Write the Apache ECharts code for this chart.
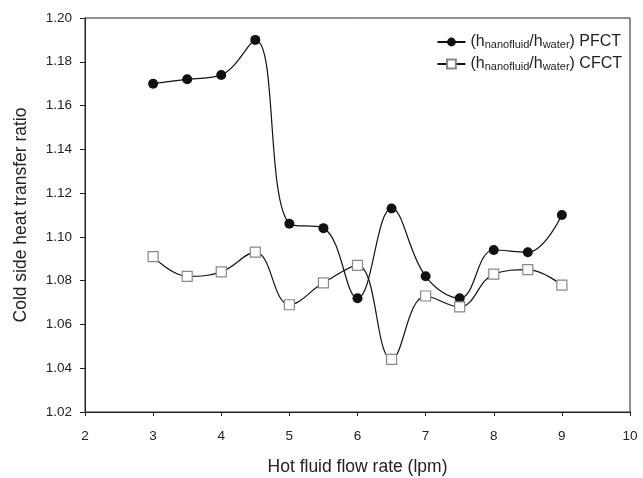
<!DOCTYPE html>
<html>
<head>
<meta charset="utf-8">
<script src="https://cdn.jsdelivr.net/npm/echarts@6/dist/echarts.min.js"></script>
<style>
  html, body { margin: 0; padding: 0; background: #fff; }
  #main { width: 643px; height: 478px; }
</style>
</head>
<body>
<div id="main"></div>
<script>
// flow rate (lpm)
const flowRate = [3, 3.5, 4, 4.5, 5, 5.5, 6, 6.5, 7, 7.5, 8, 8.5, 9]
// h_nanofluid / h_water
const pfct = [1.170, 1.172, 1.174, 1.190, 1.106, 1.104, 1.072, 1.113, 1.082, 1.072, 1.094, 1.093, 1.110]
const cfct = [1.091, 1.082, 1.084, 1.093, 1.069, 1.079, 1.087, 1.044, 1.073, 1.068, 1.083, 1.085, 1.078]

const font = 'Liberation Sans, Arial, sans-serif'

function pairs(ys) {
  return flowRate.map((x, i) => [x, ys[i]])
}

const chart = echarts.init(document.getElementById('main'))
chart.setOption({
  animation: false,
  backgroundColor: '#fff',
  textStyle: { fontFamily: font },
  grid: {
    left: 85, right: 13, top: 18, bottom: 66,
    outerBoundsMode: 'none', containLabel: false,
    show: true, borderColor: '#222', borderWidth: 1
  },
  legend: {
    orient: 'vertical',
    right: 21,
    top: 32,
    padding: 0,
    itemWidth: 28,
    itemHeight: 11,
    itemGap: 2,
    data: ['PFCT', 'CFCT'],
    formatter: name => '(h{sub|nanofluid}/h{sub|water}) ' + name,
    textStyle: {
      fontFamily: font, fontSize: 16, color: '#222', lineHeight: 20,
      rich: { sub: { fontFamily: font, fontSize: 11, color: '#222', lineHeight: 20, padding: [6, 0, 0, 0] } }
    }
  },
  xAxis: {
    type: 'value', min: 2, max: 10, interval: 1,
    name: 'Hot fluid flow rate (lpm)', nameLocation: 'middle', nameGap: 46,
    nameTextStyle: { fontFamily: font, fontSize: 17.5, color: '#222' },
    axisLine: { lineStyle: { color: '#222' } },
    axisTick: { length: 4, lineStyle: { color: '#222' } },
    axisLabel: { fontFamily: font, fontSize: 13.5, color: '#222', margin: 17 },
    splitLine: { show: false }
  },
  yAxis: {
    type: 'value', min: 1.02, max: 1.20, interval: 0.02,
    name: 'Cold side heat transfer ratio', nameLocation: 'middle', nameGap: 55,
    nameTextStyle: { fontFamily: font, fontSize: 17.5, color: '#222' },
    axisLine: { show: true, lineStyle: { color: '#222' } },
    axisTick: { show: true, length: 5, lineStyle: { color: '#222' } },
    axisLabel: { fontFamily: font, fontSize: 13.5, color: '#222', margin: 13, formatter: v => v.toFixed(2) },
    splitLine: { show: false }
  },
  series: [
    {
      name: 'PFCT', type: 'line', data: pairs(pfct), smooth: 0.4,
      symbol: 'circle', symbolSize: 10,
      itemStyle: { color: '#111' },
      lineStyle: { color: '#111', width: 1.2 }
    },
    {
      name: 'CFCT', type: 'line', data: pairs(cfct), smooth: 0.4,
      symbol: 'rect', symbolSize: 10,
      itemStyle: { color: '#fff', borderColor: '#888', borderWidth: 1.2 },
      lineStyle: { color: '#111', width: 1.2 }
    }
  ]
})
</script>
</body>
</html>
